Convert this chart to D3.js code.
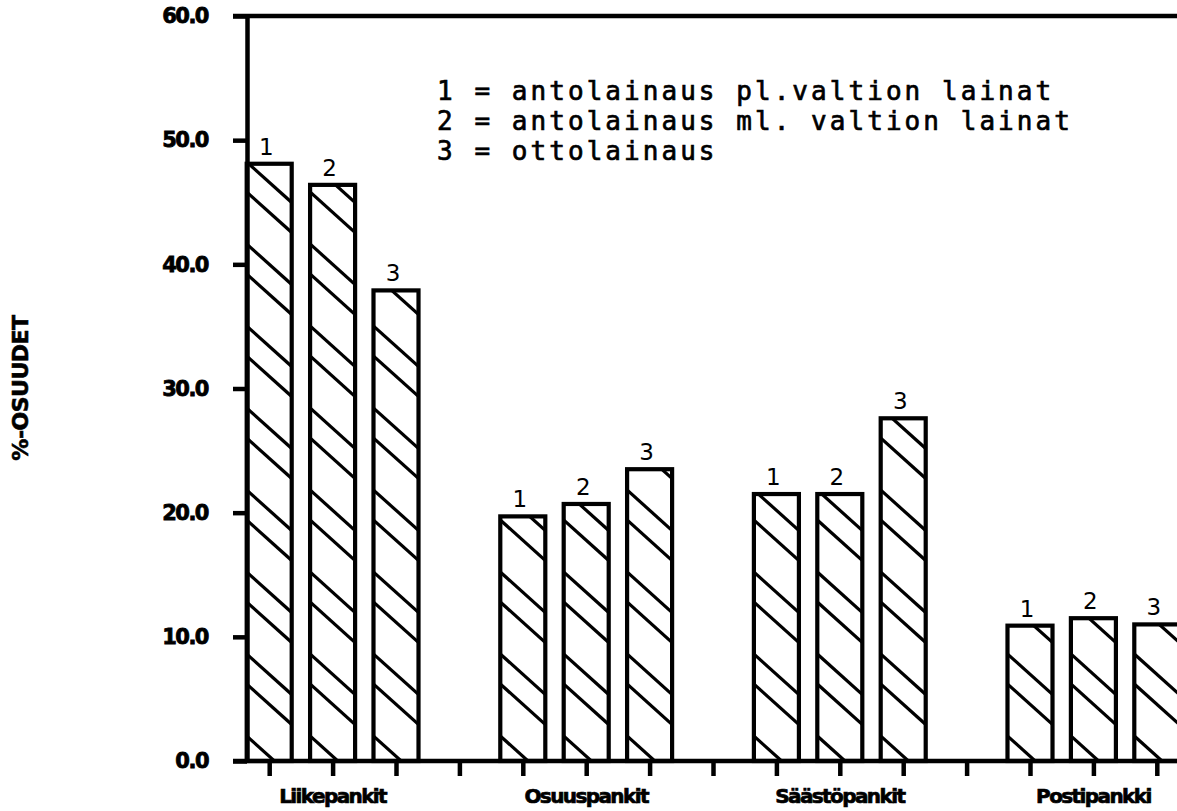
<!DOCTYPE html>
<html>
<head>
<meta charset="utf-8">
<script src="https://cdn.jsdelivr.net/npm/d3@7"></script>
<style>
  html, body { margin: 0; padding: 0; background: #fff; }
  svg { display: block; }
</style>
</head>
<body>
<svg id="chart" width="1177" height="811"></svg>
<script>
// ---- data ----
const categories = ["Liikepankit", "Osuuspankit", "Säästöpankit", "Postipankki"];
const seriesKeys = ["1", "2", "3"];
const antolainausPl = [48.1, 19.7, 21.5, 10.9];   // 1
const antolainausMl = [46.4, 20.7, 21.5, 11.5];   // 2
const ottolainaus   = [37.9, 23.5, 27.6, 11.0];   // 3
const yTicks = [0, 10, 20, 30, 40, 50, 60];
const legendLabels = [
  "1 = antolainaus pl.valtion lainat",
  "2 = antolainaus ml. valtion lainat",
  "3 = ottolainaus"
];
const yTitle = "%-OSUUDET";

const seriesValues = [antolainausPl, antolainausMl, ottolainaus];

// ---- layout ----
const W = 1177, H = 811;
const svg = d3.select("#chart");
svg.append("rect").attr("width", W).attr("height", H).attr("fill", "#fff");

const axisX = 247, baseY = 761, topY = 16;
const y = d3.scaleLinear().domain([0, 60]).range([baseY, topY]);

const x0 = d3.scaleBand().domain(categories)
  .range([237.5, 1188.5]).paddingInner(0.25).paddingOuter(0);
const x1 = d3.scaleBand().domain(seriesKeys)
  .range([0, x0.bandwidth()]).paddingInner(0.29).paddingOuter(0.145);

// slot scale for x ticks (bar centres and gap centres)
const nSlots = categories.length * (seriesKeys.length + 1) - 1;
const firstC = x0(categories[0]) + x1(seriesKeys[0]) + x1.bandwidth() / 2;
const lastC = x0(categories[categories.length - 1]) + x1(seriesKeys[seriesKeys.length - 1]) + x1.bandwidth() / 2;
const slot = d3.scaleLinear().domain([0, nSlots - 1]).range([firstC, lastC]);

const bars = [];
categories.forEach((c, ci) => {
  seriesKeys.forEach((k, si) => {
    bars.push({ cat: c, key: k, value: seriesValues[si][ci], id: `b${ci}_${si}` });
  });
});

const defs = svg.append("defs");
const barW = x1.bandwidth();
const slope = 0.9, period = 82, offA = 25, offB = 77;

const gBars = svg.append("g");
bars.forEach(b => {
  const bx = x0(b.cat) + x1(b.key);
  const by = y(b.value);
  const bh = baseY - by;
  defs.append("clipPath").attr("id", "clip_" + b.id)
    .append("rect").attr("x", bx).attr("y", by).attr("width", barW).attr("height", bh);
  const g = gBars.append("g");
  const hatch = g.append("g").attr("clip-path", `url(#clip_${b.id})`);
  const starts = [];
  for (let k = 0; ; k++) {
    const a = baseY - offA - period * k;
    const bb = baseY - offB - period * k;
    if (a < by - slope * barW - period) break;
    starts.push(a, bb);
  }
  hatch.selectAll("line").data(starts).join("line")
    .attr("x1", bx - 2).attr("y1", d => d - 2 * slope)
    .attr("x2", bx + barW + 2).attr("y2", d => d + slope * (barW + 2))
    .attr("stroke", "#000").attr("stroke-width", 3.2);
  g.append("rect").attr("x", bx).attr("y", by).attr("width", barW).attr("height", bh)
    .attr("fill", "none").attr("stroke", "#000").attr("stroke-width", 4.2);
  g.append("text")
    .attr("x", bx + barW / 2 - 3).attr("y", by - 9)
    .attr("text-anchor", "middle")
    .attr("font-family", "DejaVu Sans, sans-serif").attr("font-size", 23)
    .attr("fill", "#000").text(b.key);
});

// ---- y axis ----
const yAxis = d3.axisLeft(y).tickValues(yTicks).tickFormat(d3.format(".1f"))
  .tickSize(14).tickSizeOuter(0).tickPadding(25);
const gy = svg.append("g").attr("transform", `translate(${axisX},0)`).call(yAxis);
gy.select(".domain").attr("stroke", "#000").attr("stroke-width", 4.5);
gy.selectAll(".tick line").attr("stroke", "#000").attr("stroke-width", 4.5);
gy.selectAll(".tick text")
  .attr("font-family", "DejaVu Sans, sans-serif").attr("font-weight", "bold")
  .attr("font-size", 21).attr("letter-spacing", "-1.5px").attr("fill", "#000")
  .attr("stroke", "#000").attr("stroke-width", 0.8);

// top frame line
svg.append("line").attr("x1", axisX - 14).attr("x2", W).attr("y1", y(60)).attr("y2", y(60))
  .attr("stroke", "#000").attr("stroke-width", 4.5);

// ---- x axis ----
svg.append("line").attr("x1", axisX - 14).attr("x2", W).attr("y1", y(0)).attr("y2", y(0))
  .attr("stroke", "#000").attr("stroke-width", 4.5);
const xTicks = d3.axisBottom(slot).tickValues(d3.range(nSlots)).tickFormat("").tickSize(15).tickSizeOuter(0);
const gxt = svg.append("g").attr("transform", `translate(0,${baseY})`).call(xTicks);
gxt.select(".domain").remove();
gxt.selectAll(".tick line").attr("stroke", "#000").attr("stroke-width", 4.5);

const xLabels = d3.axisBottom(x0).tickSize(0).tickPadding(28);
const gxl = svg.append("g").attr("transform", `translate(0,${baseY})`).call(xLabels);
gxl.select(".domain").remove();
gxl.selectAll(".tick text")
  .attr("font-family", "DejaVu Sans, sans-serif").attr("font-weight", "bold")
  .attr("font-size", 20).attr("letter-spacing", "-1.6px").attr("fill", "#000")
  .attr("stroke", "#000").attr("stroke-width", 0.7);

// ---- y title ----
svg.append("text")
  .attr("transform", `translate(28,388) rotate(-90)`)
  .attr("text-anchor", "middle")
  .attr("font-family", "DejaVu Sans, sans-serif").attr("font-weight", "bold")
  .attr("font-size", 22).attr("letter-spacing", "-0.5px").attr("fill", "#000")
  .attr("stroke", "#000").attr("stroke-width", 0.6)
  .text(yTitle);

// ---- legend ----
svg.append("g").selectAll("text").data(legendLabels).join("text")
  .attr("x", 437).attr("y", (d, i) => 100 + i * 30)
  .attr("font-family", "DejaVu Sans Mono, monospace")
  .attr("font-size", 26).attr("letter-spacing", "3.05px").attr("fill", "#000")
  .attr("stroke", "#000").attr("stroke-width", 0.7)
  .attr("xml:space", "preserve").style("white-space", "pre")
  .text(d => d);
</script>
</body>
</html>
